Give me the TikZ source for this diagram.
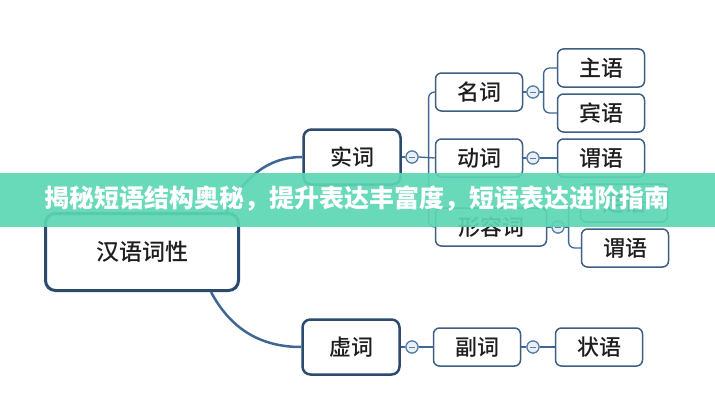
\documentclass[tikz,border=0pt]{standalone}
\usepackage{fontspec}
\setmainfont{Noto Sans CJK SC Medium}
\newfontfamily\cjkbold{Noto Sans CJK SC Black}
\usetikzlibrary{calc}
\definecolor{boxdark}{HTML}{2C4A6E}
\definecolor{boxthin}{HTML}{3E5E82}
\definecolor{linec}{HTML}{3F6794}
\definecolor{circc}{HTML}{5A7FA6}
\definecolor{circfill}{HTML}{E9EFF5}
\definecolor{banner}{HTML}{5CD6B4}
\definecolor{txt}{HTML}{1E1E1E}
\tikzset{
  rootbox/.style={draw=boxdark,line width=3pt,rounded corners=10pt,fill=white,text=txt,minimum width=193pt,minimum height=77pt,inner sep=0pt,font=\fontsize{23}{27}\selectfont},
  midbox/.style={draw=boxdark,line width=2.5pt,rounded corners=8pt,fill=white,text=txt,minimum width=97pt,minimum height=55pt,inner sep=0pt,font=\fontsize{22}{26}\selectfont},
  leafbox/.style={draw=boxthin,line width=1.5pt,rounded corners=6pt,fill=white,text=txt,minimum width=87pt,minimum height=38pt,inner sep=0pt,font=\fontsize{22}{26}\selectfont},
  knob/.style={circle,draw=circc,line width=1.2pt,fill=circfill,minimum size=12pt,inner sep=0pt},
  conn/.style={draw=linec,line width=1.3pt},
  curvec/.style={draw=linec,line width=2.5pt},
}
\newcommand{\minusmark}[1]{\draw[circc,line width=0.8pt] ($(#1)+(-3,0)$) -- ($(#1)+(3,0)$);}
\begin{document}
\begin{tikzpicture}[x=1pt,y=1pt]
\useasboundingbox (0,0) rectangle (715,400);
\fill[white] (0,0) rectangle (715,400);
% nodes
\node[rootbox] (root) at (142,148) {汉语词性};
\node[midbox] (shi) at (352,243) {实词};
\node[midbox] (xu) at (351,53) {虚词};
\node[leafbox] (ming) at (479,308) {名词};
\node[leafbox] (dong) at (479,242) {动词};
\node[leafbox,minimum width=111pt] (xing) at (491,173) {形容词};
\node[leafbox] (zhu) at (601,332) {主语};
\node[leafbox] (bin) at (601,287) {宾语};
\node[leafbox] (wei1) at (601,242) {谓语};
\node[leafbox] (ding) at (624,197) {定语};
\node[leafbox] (wei2) at (625,152) {谓语};
\node[leafbox] (fu) at (477,53) {副词};
\node[leafbox] (zhuang) at (599,53) {状语};
% knobs
\node[knob] (c1) at (412,243) {};
\node[knob] (c2) at (412,53) {};
\node[knob] (cm) at (533,308) {};
\node[knob] (cd) at (533,242) {};
\node[knob] (cx) at (558,173) {};
\node[knob] (cf) at (533,53) {};
% connectors
\path[curvec] ([xshift=-14pt]root.north east) to[out=62,in=180] (shi.west);
\path[curvec] ([xshift=-29pt]root.south east) to[out=-62,in=180] (xu.west);
\path[conn] (shi.east) -- (c1.west);
\path[conn] (xu.east) -- (c2.west);
\path[conn] (c1.east) -- (dong.west);
\path[conn,rounded corners=6pt] (ming.west) -| ($(c1.east)+(10,0)$) |- (xing.west);
\path[conn] (ming.east) -- (cm.west);
\path[conn] (cm.east) -- ++(4,0) coordinate (bm);
\path[conn,rounded corners=6pt] (zhu.west) -| (bm) |- (bin.west);
\path[conn] (dong.east) -- (cd.west);
\path[conn] (cd.east) -- (wei1.west);
\path[conn] (xing.east) -- (cx.west);
\path[conn] (cx.east) -- ++(4,0) coordinate (bx);
\path[conn,rounded corners=6pt] (ding.west) -| (bx) |- (wei2.west);
\path[conn] (c2.east) -- (fu.west);
\path[conn] (fu.east) -- (cf.west);
\path[conn] (cf.east) -- (zhuang.west);
% redraw knobs on top
\foreach \k in {c1,c2,cm,cd,cx,cf}{
  \node[knob] at (\k) {};
  \minusmark{\k}
}
% banner
\fill[banner,opacity=0.92] (0,173) rectangle (715,227);
\node[text=white,font=\cjkbold\fontsize{25}{29}\selectfont,inner sep=0pt] (title) at (357,201) {揭秘短语结构奥秘，提升表达丰富度，短语表达进阶指南};
\end{tikzpicture}
\end{document}
